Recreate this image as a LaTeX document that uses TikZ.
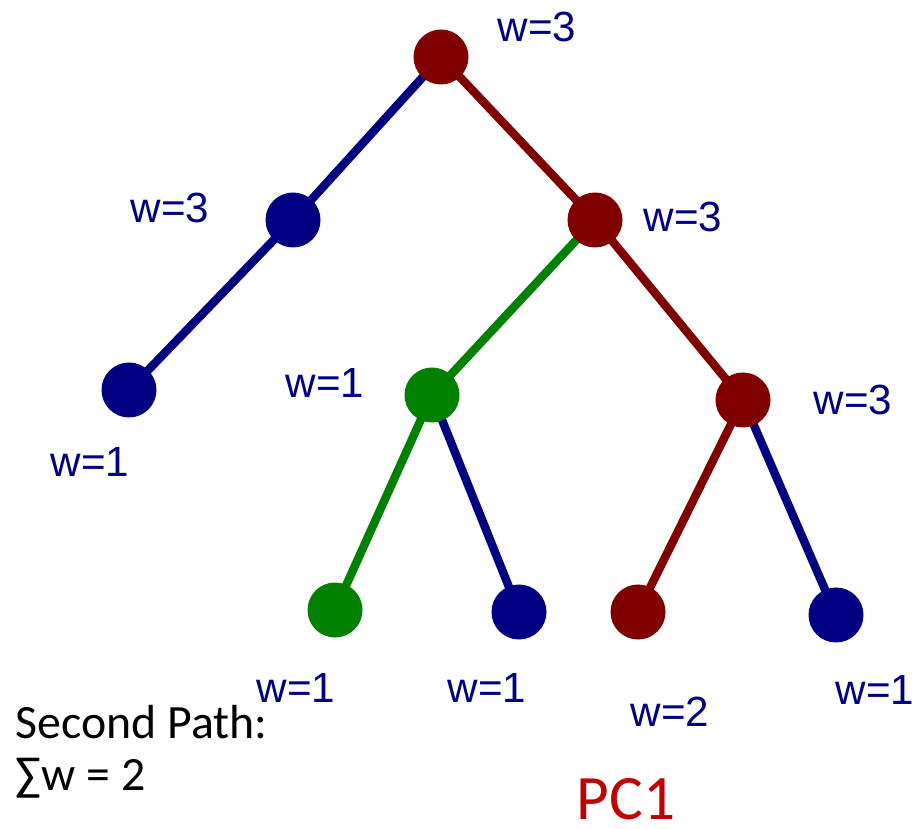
\documentclass[tikz,border=0pt]{standalone}
\usepackage{fontspec}
\setmainfont{Carlito}
\newfontfamily\wfont{Liberation Sans}
\definecolor{tnavy}{RGB}{0,0,128}
\definecolor{tmaroon}{RGB}{128,0,0}
\definecolor{tgreen}{RGB}{0,128,0}
\definecolor{pcred}{RGB}{192,0,0}
\begin{document}
\begin{tikzpicture}[
  v/.style={circle, fill=#1, minimum size=5.5mm, inner sep=0pt},
  e/.style={line width=2.4pt, #1},
  wlab/.style={text=tnavy, font=\wfont\fontsize{12}{14}\selectfont, inner sep=0pt}
]
  \useasboundingbox (0,0) rectangle (9.15,-8.29);

  % edges first, vertices on top
  \coordinate (r) at (4.41,-0.57);
  \coordinate (a) at (2.93,-2.20);
  \coordinate (b) at (5.95,-2.20);
  \coordinate (a1) at (1.29,-3.90);
  \coordinate (c) at (4.32,-3.95);
  \coordinate (d) at (7.43,-4.00);
  \coordinate (c1) at (3.35,-6.10);
  \coordinate (c2) at (5.19,-6.12);
  \coordinate (d1) at (6.38,-6.12);
  \coordinate (d2) at (8.36,-6.15);

  \draw[e=tnavy] (r)--(a);
  \draw[e=tmaroon] (r)--(b);
  \draw[e=tnavy] (a)--(a1);
  \draw[e=tgreen] (b)--(c);
  \draw[e=tmaroon] (b)--(d);
  \draw[e=tgreen] (c)--(c1);
  \draw[e=tnavy] (c)--(c2);
  \draw[e=tmaroon] (d)--(d1);
  \draw[e=tnavy] (d)--(d2);

  \node[v=tmaroon] (vr) at (r) {};
  \node[v=tnavy] (va) at (a) {};
  \node[v=tmaroon] (vb) at (b) {};
  \node[v=tnavy] (va1) at (a1) {};
  \node[v=tgreen] (vc) at (c) {};
  \node[v=tmaroon] (vd) at (d) {};
  \node[v=tgreen] (vc1) at (c1) {};
  \node[v=tnavy] (vc2) at (c2) {};
  \node[v=tmaroon] (vd1) at (d1) {};
  \node[v=tnavy] (vd2) at (d2) {};

  % weights
  \node[wlab] (wr) at (5.37,-0.27) {w=3};
  \node[wlab] (wa) at (1.70,-2.08) {w=3};
  \node[wlab] (wb) at (6.83,-2.17) {w=3};
  \node[wlab] (wa1) at (0.90,-4.62) {w=1};
  \node[wlab] (wc) at (3.25,-3.83) {w=1};
  \node[wlab] (wd) at (8.53,-4.00) {w=3};
  \node[wlab] (wc1) at (2.96,-6.88) {w=1};
  \node[wlab] (wc2) at (4.87,-6.88) {w=1};
  \node[wlab] (wd1) at (6.70,-7.12) {w=2};
  \node[wlab] (wd2) at (8.75,-6.90) {w=1};

  \node[anchor=west, font=\fontsize{13.6}{16}\selectfont, inner sep=0pt] (path) at (0.15,-7.22) {Second Path:};
  \node[anchor=west, font=\fontsize{13.6}{16}\selectfont, inner sep=0pt] (sum) at (0.15,-7.78) {∑w = 2};
  \node[text=pcred, font=\fontsize{18}{20}\selectfont, inner sep=0pt] (pc) at (6.26,-7.99) {PC1};
\end{tikzpicture}
\end{document}
